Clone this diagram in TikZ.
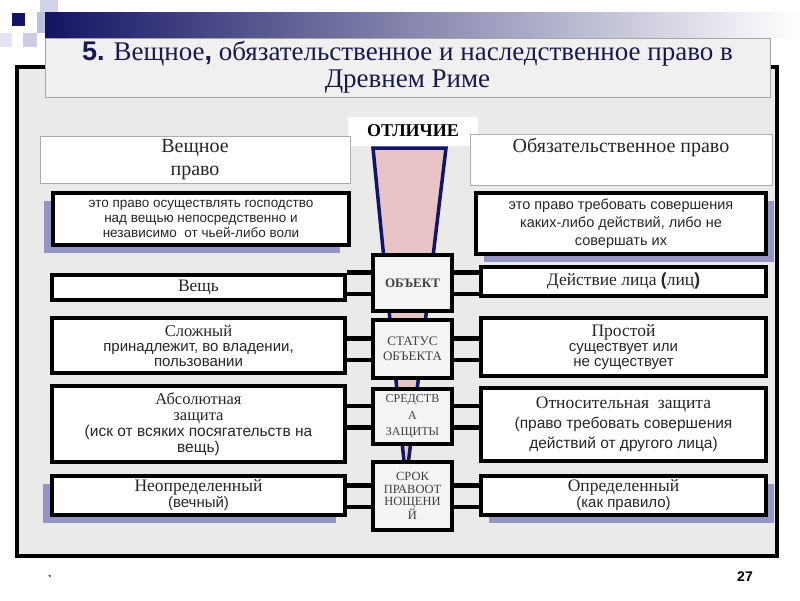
\documentclass[tikz,border=0pt]{standalone}
\usepackage{fontspec}
\setmainfont{Liberation Serif}
\setsansfont{Liberation Sans}
\usetikzlibrary{shadows,positioning}

\definecolor{navy}{RGB}{20,20,100}
\definecolor{titleink}{RGB}{25,25,75}
\definecolor{pinkfill}{RGB}{232,196,198}
\definecolor{framebg}{RGB}{234,234,234}
\definecolor{shadowblue}{RGB}{120,120,185}
\definecolor{lavender}{RGB}{190,190,222}

\newcommand{\rowhead}{\rmfamily\fontsize{17.5}{18}\selectfont}
\newcommand{\smallhead}{\rmfamily\fontsize{16.5}{17}\selectfont}
\newcommand{\rowtext}{\sffamily\fontsize{15}{15}\selectfont}

\tikzset{
  sidebox/.style={draw=black,line width=4pt,fill=white,align=center,inner sep=1pt,text=black!85,font=\rowtext},
  midbox/.style={draw=black,line width=4pt,fill=gray!9,align=center,minimum width=79pt,text=black!75,font=\rmfamily\fontsize{13}{15}\selectfont},
  headbox/.style={draw=gray!65,line width=0.8pt,fill=white,align=center,text=black!85,font=\rmfamily\fontsize{20}{23}\selectfont},
  band/.style={line width=4.5pt,double=framebg,double distance=17pt},
  lshadow/.style={drop shadow={shadow xshift=-9pt,shadow yshift=-8pt,fill=shadowblue,opacity=0.75}},
  rshadow/.style={drop shadow={shadow xshift=8pt,shadow yshift=-8pt,fill=shadowblue,opacity=0.75}}
}

\begin{document}
\begin{tikzpicture}[x=1pt,y=-1pt]
	\useasboundingbox[fill=white] (0,0) rectangle (800,600);

	% corner squares and bar
	\fill[lavender!70] (40,0) rectangle (58,12);
	\fill[navy] (12,13) rectangle (25,26);
	\fill[lavender] (37,12) rectangle (60,33);
	\fill[lavender!80] (23,33) rectangle (37,47);
	\fill[lavender!40] (0,33) rectangle (12,47);
	\shade[left color=navy,middle color=navy!45,right color=white] (45,12) rectangle (800,37);

	% frame
	\draw[line width=4pt,fill=framebg] (17,67) rectangle (777,556);

	\node[draw=gray!70,line width=1pt,fill=gray!12,minimum width=725pt,minimum height=59pt,
	      align=center,text=titleink,font=\rmfamily\fontsize{27}{27}\selectfont] (title) at (407.5,67.5)
		{{\sffamily\bfseries 5.} Вещное{\sffamily\bfseries ,} обязательственное и наследственное право в\\Древнем Риме};

	% spine
	\fill[pinkfill,draw=navy,line width=3.5pt,line join=miter] (373,148) -- (446,148) -- (406,482) -- cycle;
	\node[fill=white,minimum width=130pt,minimum height=29pt,font=\rmfamily\bfseries\fontsize{18}{18}\selectfont] (diff) at (413,131) {ОТЛИЧИЕ};

	\node[headbox,minimum width=310pt,minimum height=46pt] (realhead) at (195,160) {Вещное\\право};
	\node[headbox,minimum width=302pt,minimum height=46pt] (obhead) at (621,160) {Обязательственное право\\\strut};

	\node[sidebox,lshadow,minimum width=296pt,minimum height=52pt,font=\sffamily\fontsize{13.5}{15}\selectfont] (realdef) at (201,219)
		{это право осуществлять господство\\над вещью непосредственно и\\независимо~ от чьей-либо воли};
	\node[sidebox,rshadow,minimum width=290pt,minimum height=61pt,font=\sffamily\fontsize{14.5}{18}\selectfont] (obdef) at (621,223.5)
		{это право требовать совершения\\каких-либо действий, либо не\\совершать их};

	% middle column
	\node[midbox,minimum height=56pt,font=\rmfamily\bfseries\fontsize{13}{14}\selectfont] (C1) at (412.5,283) {ОБЪЕКТ};
	\node[midbox,minimum height=58pt] (C2) at (412.5,349) {СТАТУС\\ОБЪЕКТА};
	\node[midbox,minimum height=55pt,font=\rmfamily\fontsize{12}{16.5}\selectfont] (C3) at (412.5,416.5) {СРЕДСТВ\\А\\ЗАЩИТЫ};
	\node[midbox,minimum height=68pt,font=\rmfamily\fontsize{12.5}{12.7}\selectfont] (C4) at (412.5,496) {СРОК\\ПРАВООТ\\НОЩЕНИ\\Й};

	% left column
	\node[sidebox,minimum width=293pt,minimum height=25pt] (L1) at (198.5,287.5) {\rowhead Вещь};
	\node[sidebox,minimum width=293pt,minimum height=55pt] (L2) at (198.5,345.5)
		{{\smallhead Сложный}\\принадлежит, во владении,\\пользовании};
	\node[sidebox,minimum width=293pt,minimum height=76pt,font=\sffamily\fontsize{15.5}{16}\selectfont] (L3) at (198.5,424)
		{{\smallhead Абсолютная}\\{\smallhead защита}\\(иск от всяких посягательств на\\вещь)};
	\node[sidebox,lshadow,minimum width=293pt,minimum height=39pt,font=\sffamily\fontsize{15}{16}\selectfont] (L4) at (198.5,495.5)
		{{\rowhead Неопределенный}\\(вечный)};

	% right column
	\node[sidebox,minimum width=285pt,minimum height=29pt] (R1) at (623.5,281.5)
		{\rowhead Действие лица {\sffamily\bfseries(}лиц{\sffamily\bfseries)}};
	\node[sidebox,minimum width=285pt,minimum height=58pt] (R2) at (623.5,347)
		{{\rowhead Простой}\\существует или\\не существует};
	\node[sidebox,minimum width=285pt,minimum height=73pt,font=\sffamily\fontsize{15.5}{20}\selectfont] (R3) at (623.5,424.5)
		{{\rowhead Относительная~ защита}\\(право требовать совершения\\действий от другого лица)};
	\node[sidebox,rshadow,minimum width=285pt,minimum height=39pt,font=\sffamily\fontsize{15}{16}\selectfont] (R4) at (623.5,495.5)
		{{\rowhead Определенный}\\(как правило)};

	\foreach \n in {1,...,4}{
		\draw[band] (C\n.west -| L\n.east) -- (C\n.west);
		\draw[band] (C\n.east) -- (C\n.east -| R\n.west);
	}

	\node[font=\sffamily\fontsize{8}{8}\selectfont] (star) at (50,578) {*};
	\node[font=\sffamily\bfseries\fontsize{14}{14}\selectfont] (page) at (745,577) {27};
\end{tikzpicture}
\end{document}
